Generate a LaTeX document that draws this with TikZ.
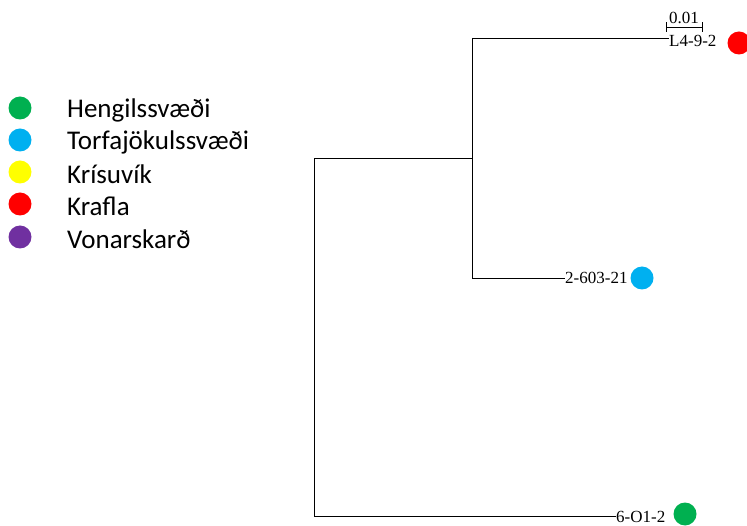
\documentclass[tikz,border=0pt]{standalone}
\usepackage{fontspec}
\setmainfont{Liberation Serif}
\newfontfamily\legfont{Carlito}
\definecolor{cgreen}{RGB}{0,176,80}
\definecolor{cblue}{RGB}{0,176,240}
\definecolor{cyellow}{RGB}{255,255,0}
\definecolor{cred}{RGB}{255,0,0}
\definecolor{cpurple}{RGB}{112,48,160}
\begin{document}
\begin{tikzpicture}[x=1pt,y=-1pt,
  branch/.style={draw=black,line width=0.8pt},
  dot/.style={circle,inner sep=0pt,minimum size=23pt,fill=#1,draw=none},
  leaf/.style={anchor=west,inner sep=0pt,font=\fontsize{17}{19}\selectfont},
  legtext/.style={anchor=west,inner sep=0pt,font=\legfont\fontsize{27}{31}\selectfont}]
\useasboundingbox (0,0) rectangle (747,526);
% legend
\node[dot=cgreen] (d1) at (20,108) {};
\node[dot=cblue] (d2) at (20,140) {};
\node[dot=cyellow] (d3) at (20,172) {};
\node[dot=cred] (d4) at (20,204) {};
\node[dot=cpurple] (d5) at (20,237) {};
\node[legtext] (t1) at (67,110) {Hengilssvæði};
\node[legtext] (t2) at (67,142) {Torfajökulssvæði};
\node[legtext] (t3) at (67,174) {Krísuvík};
\node[legtext] (t4) at (67,206) {Krafla};
\node[legtext] (t5) at (67,239) {Vonarskarð};
% tree
\coordinate (root) at (314,158);
\coordinate (rootb) at (314,516);
\coordinate (inner) at (472,158);
\coordinate (in1) at (472,38);
\coordinate (in2) at (472,278);
\node[leaf] (L1) at (669,41) {L4-9-2};
\node[leaf] (L2) at (565,278) {2-603-21};
\node[leaf] (L3) at (616,517) {6-O1-2};
\node[dot=cred] (c1) at (739,43) {};
\node[dot=cblue] (c2) at (642,278) {};
\node[dot=cgreen] (c3) at (685,514) {};
\draw[branch] (rootb) -- (root) -- (inner);
\draw[branch] (in1) -- (in2);
\draw[branch] (in1) -- (in1 -| L1.west);
\draw[branch] (in2) -- (L2.west);
\draw[branch] (rootb) -- (rootb -| L3.west);
% scale bar
\coordinate (sb1) at (666,27);
\coordinate (sb2) at (702,27);
\draw[branch] (sb1) -- (sb2);
\draw[branch] ([yshift=-5pt]sb1) -- ([yshift=5pt]sb1);
\draw[branch] ([yshift=-5pt]sb2) -- ([yshift=5pt]sb2);
\node[inner sep=0pt,font=\fontsize{17}{19}\selectfont] (sbl) at (684,18) {0.01};
\end{tikzpicture}
\end{document}
